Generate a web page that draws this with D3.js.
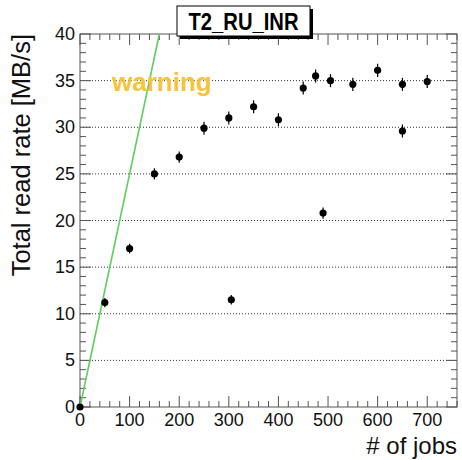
<!DOCTYPE html>
<html>
<head>
<meta charset="utf-8">
<script src="https://cdn.jsdelivr.net/npm/d3@7"></script>
<style>
  html, body { margin: 0; padding: 0; background: #fff; }
  svg { display: block; font-family: "Liberation Sans", Arial, Helvetica, sans-serif; }
</style>
</head>
<body>
<svg id="chart" width="462" height="460"></svg>
<script>
// ---- data ----
const jobs   = [0, 50, 100, 150, 200, 250, 300, 305, 350, 400, 450, 475, 490, 505, 550, 600, 650, 650, 700];
const rates  = [0, 11.2, 17.0, 25.0, 26.8, 29.9, 31.0, 11.5, 32.2, 30.8, 34.2, 35.5, 20.8, 35.0, 34.6, 36.1, 34.6, 29.6, 34.9];
const errors = [0.3, 0.5, 0.5, 0.6, 0.6, 0.7, 0.7, 0.5, 0.7, 0.7, 0.7, 0.7, 0.6, 0.7, 0.7, 0.7, 0.7, 0.7, 0.7];
const xTicks = [0, 100, 200, 300, 400, 500, 600, 700];
const yTicks = [0, 5, 10, 15, 20, 25, 30, 35, 40];
const warningLine = [[0, 0], [160, 40]];
const titleText = "T2_RU_INR";
const xLabel = "# of jobs";
const yLabel = "Total read rate [MB/s]";
const warningText = "warning";

// ---- layout ----
const svg = d3.select("#chart");
const L = 80, R = 457, T = 34, B = 407;
const x = d3.scaleLinear().domain([0, 760]).range([L, R]);
const y = d3.scaleLinear().domain([0, 40]).range([B, T]);
const frameColor = "#555";

// grid lines
svg.append("g").selectAll("line").data(yTicks.filter(v => v > 0 && v < 40)).join("line")
  .attr("x1", L).attr("x2", R)
  .attr("y1", d => y(d)).attr("y2", d => y(d))
  .attr("stroke", "#333").attr("stroke-width", 1)
  .attr("stroke-dasharray", "1,2");

// axes (ROOT style: ticks inside)
const xMinor = d3.range(0, 761, 20);
const yMinor = d3.range(0, 40.01, 1);

function tickGroup(sel, vals, isMajorFn, orient) {
  sel.selectAll("line").data(vals).join("line")
    .attr("stroke", frameColor).attr("stroke-width", 1)
    .each(function(d) {
      const len = isMajorFn(d) ? 11 : 6;
      const s = d3.select(this);
      if (orient === "bottom") s.attr("x1", x(d)).attr("x2", x(d)).attr("y1", B).attr("y2", B - len);
      if (orient === "top") s.attr("x1", x(d)).attr("x2", x(d)).attr("y1", T).attr("y2", T + len);
      if (orient === "left") s.attr("y1", y(d)).attr("y2", y(d)).attr("x1", L).attr("x2", L + len);
      if (orient === "right") s.attr("y1", y(d)).attr("y2", y(d)).attr("x1", R).attr("x2", R - len);
    });
}
const isMajX = d => d % 100 === 0;
const isMajY = d => d % 5 === 0;
tickGroup(svg.append("g"), xMinor, isMajX, "bottom");
tickGroup(svg.append("g"), xMinor, isMajX, "top");
tickGroup(svg.append("g"), yMinor, isMajY, "left");
tickGroup(svg.append("g"), yMinor, isMajY, "right");

// frame
svg.append("rect").attr("x", L).attr("y", T).attr("width", R - L).attr("height", B - T)
  .attr("fill", "none").attr("stroke", frameColor).attr("stroke-width", 1);

// tick labels
svg.append("g").selectAll("text").data(xTicks).join("text")
  .attr("x", d => x(d)).attr("y", B + 19)
  .attr("text-anchor", "middle").attr("font-size", 18).attr("fill", "#111")
  .text(d => d);
svg.append("g").selectAll("text").data(yTicks).join("text")
  .attr("x", L - 5).attr("y", d => y(d) + 6)
  .attr("text-anchor", "end").attr("font-size", 18).attr("fill", "#111")
  .text(d => d);

// axis titles
svg.append("text").attr("x", R).attr("y", 454).attr("text-anchor", "end")
  .attr("font-size", 24).attr("fill", "#111").text(xLabel);
svg.append("text").attr("transform", `translate(30, ${T}) rotate(-90)`)
  .attr("text-anchor", "end").attr("font-size", 25.5).attr("fill", "#111").text(yLabel);

// warning line
const line = d3.line().x(d => x(d[0])).y(d => y(d[1]));
svg.append("path").datum(warningLine).attr("d", line)
  .attr("fill", "none").attr("stroke", "#5fcf5f").attr("stroke-width", 1.6);

// warning text
svg.append("text").attr("x", 112).attr("y", 91)
  .attr("font-size", 26).attr("font-weight", "bold").attr("fill", "#f5c43c")
  .text(warningText);

// error bars and points
const pts = jobs.map((j, i) => ({ j, r: rates[i], e: errors[i] }));
svg.append("g").selectAll("line").data(pts).join("line")
  .attr("x1", d => x(d.j)).attr("x2", d => x(d.j))
  .attr("y1", d => y(d.r - d.e)).attr("y2", d => y(d.r + d.e))
  .attr("stroke", "#000").attr("stroke-width", 1.2);
svg.append("g").selectAll("circle").data(pts).join("circle")
  .attr("cx", d => x(d.j)).attr("cy", d => y(d.r)).attr("r", 3.6)
  .attr("fill", "#000");

// title box
const tb = { x: 177, y: 6, w: 133, h: 30 };
svg.append("rect").attr("x", tb.x + 3).attr("y", tb.y + 3).attr("width", tb.w).attr("height", tb.h)
  .attr("fill", "#000");
svg.append("rect").attr("x", tb.x).attr("y", tb.y).attr("width", tb.w).attr("height", tb.h)
  .attr("fill", "#fff").attr("stroke", "#000").attr("stroke-width", 1);
svg.append("text").attr("x", tb.x + tb.w / 2).attr("y", tb.y + 24)
  .attr("text-anchor", "middle").attr("font-size", 23).attr("font-weight", "bold")
  .attr("textLength", 110).attr("lengthAdjust", "spacingAndGlyphs")
  .attr("fill", "#000").text(titleText);
</script>
</body>
</html>
